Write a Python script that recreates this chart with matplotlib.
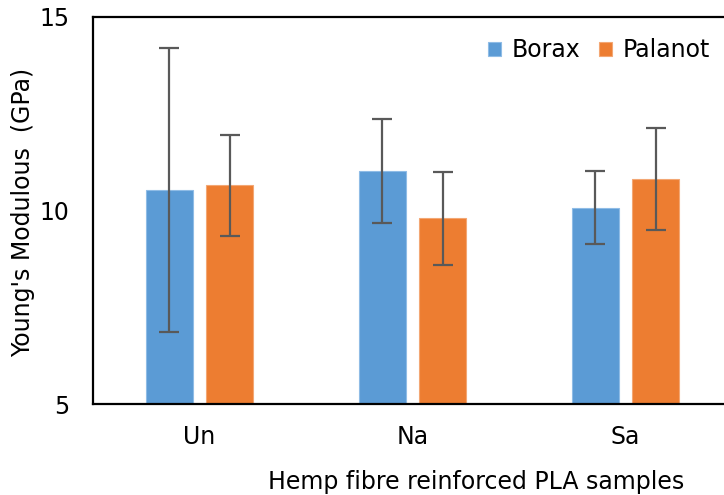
import matplotlib
matplotlib.use("Agg")
import matplotlib.pyplot as plt
import numpy as np

# Young's modulus of hemp fibre reinforced PLA (GPa)
categories = ["Un", "Na", "Sa"]
borax_mean = [10.54, 11.02, 10.07]
borax_err = [3.67, 1.34, 0.94]
palanot_mean = [10.65, 9.80, 10.81]
palanot_err = [1.31, 1.20, 1.32]
yticks = [5, 10, 15]

plt.rcParams["font.family"] = ["DejaVu Sans"]

W, H = 724, 495
fig = plt.figure(figsize=(W / 100, H / 100), dpi=100)
# axes frame runs past the right border of the canvas
ax = fig.add_axes([93 / W, 1 - 404 / H, (732 - 93) / W, (404 - 17) / H])

x = np.arange(len(categories))
width = 0.223
offset = 0.142
err_kw = dict(ecolor="#595959", elinewidth=1.6, capsize=7.5, capthick=1.6)

ax.bar(x - offset, np.array(borax_mean) - 5, width, bottom=5, color="#5B9BD5",
       edgecolor="#8FBCE6", linewidth=0.8, yerr=borax_err, error_kw=err_kw,
       label="Borax", zorder=2)
ax.bar(x + offset, np.array(palanot_mean) - 5, width, bottom=5, color="#ED7D31",
       edgecolor="#F3A774", linewidth=0.8, yerr=palanot_err, error_kw=err_kw,
       label="Palanot", zorder=2)

fs = 17
ax.set_xlim(-0.5, len(categories) - 0.5)
ax.set_ylim(5, 15)
ax.set_yticks(yticks)
ax.set_xticks(x)
ax.set_xticklabels(categories)
ax.tick_params(axis="both", length=0, labelsize=fs, colors="#000000")
ax.tick_params(axis="y", pad=17)
ax.tick_params(axis="x", pad=15)

for side in ["left", "bottom", "top", "right"]:
    ax.spines[side].set_color("#000000")
    ax.spines[side].set_linewidth(1.6)

ax.set_ylabel("Young's Modulous  (GPa)", fontsize=fs)
ax.yaxis.set_label_coords((23 - 93) / 639, (404 - 212) / 387)
ax.set_xlabel("Hemp fibre reinforced PLA samples", fontsize=fs)
ax.xaxis.set_label_coords((476 - 93) / 639, -(482 - 404) / 387)
ax.xaxis.label.set_va("center")
ax.yaxis.label.set_va("center")

leg = ax.legend(loc="center right", bbox_to_anchor=(710 / W, 1 - 50 / H),
                bbox_transform=fig.transFigure, ncol=2, frameon=False,
                fontsize=fs, handlelength=0.55, handleheight=0.55,
                handletextpad=0.45, columnspacing=0.8, borderaxespad=0,
                borderpad=0)

fig.savefig("out.png", dpi=100)
